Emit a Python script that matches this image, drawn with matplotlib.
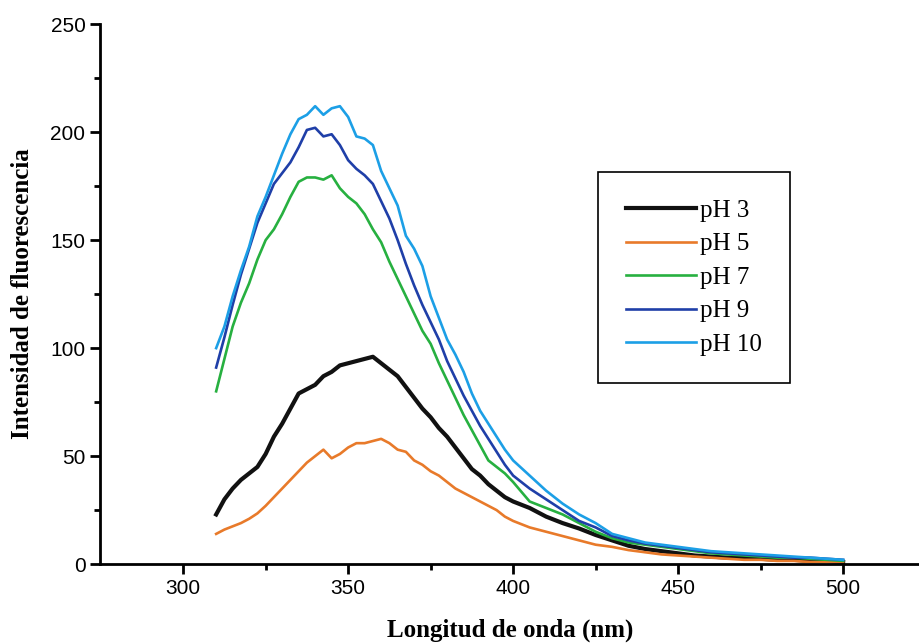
import matplotlib
matplotlib.use("Agg")
import matplotlib.pyplot as plt
import numpy as np

# wavelengths (nm)
wavelength = [310, 312.5, 315, 317.5, 320, 322.5, 325, 327.5, 330, 332.5,
              335, 337.5, 340, 342.5, 345, 347.5, 350, 352.5, 355, 357.5,
              360, 362.5, 365, 367.5, 370, 372.5, 375, 377.5, 380, 382.5,
              385, 387.5, 390, 392.5, 395, 397.5, 400, 405, 410, 415,
              420, 425, 430, 435, 440, 445, 450, 455, 460, 465,
              470, 475, 480, 485, 490, 495, 500]

ph3 = [23, 30, 35, 39, 42, 45, 51, 59, 65, 72,
       79, 81, 83, 87, 89, 92, 93, 94, 95, 96,
       93, 90, 87, 82, 77, 72, 68, 63, 59, 54,
       49, 44, 41, 37, 34, 31, 29, 26, 22, 19,
       16.5, 13.5, 11, 8.5, 7, 6, 5, 4, 3.5, 3,
       3, 2.5, 2, 2, 1.5, 1.5, 1]

ph5 = [14, 16, 17.5, 19, 21, 23.5, 27, 31, 35, 39,
       43, 47, 50, 53, 49, 51, 54, 56, 56, 57,
       58, 56, 53, 52, 48, 46, 43, 41, 38, 35,
       33, 31, 29, 27, 25, 22, 20, 17, 15, 13,
       11, 9, 8, 6.5, 5.5, 4.5, 4, 3.5, 3, 2.5,
       2, 2, 1.5, 1.5, 1, 1, 1]

ph7 = [80, 95, 110, 121, 130, 141, 150, 155, 162, 170,
       177, 179, 179, 178, 180, 174, 170, 167, 162, 155,
       149, 140, 132, 124, 116, 108, 102, 93, 85, 77,
       69, 62, 55, 48, 45, 42, 38, 29, 26, 23,
       19, 15, 12, 10, 9, 8, 7, 6, 5, 4.5,
       4, 3.5, 3, 3, 2.5, 2, 1.5]

ph9 = [91, 105, 120, 134, 146, 158, 167, 176, 181, 186,
       193, 201, 202, 198, 199, 194, 187, 183, 180, 176,
       168, 160, 150, 139, 129, 120, 112, 104, 94, 86,
       78, 71, 64, 58, 52, 46, 41, 35, 30, 25,
       20, 17, 13, 11, 9.5, 8.5, 7.5, 6.5, 5.5, 5,
       4.5, 4, 3.5, 3, 3, 2.5, 2]

ph10 = [100, 110, 124, 136, 147, 161, 170, 180, 190, 199,
        206, 208, 212, 208, 211, 212, 207, 198, 197, 194,
        182, 174, 166, 152, 146, 138, 124, 114, 104, 97,
        89, 79, 71, 65, 59, 53, 48, 41, 34, 28,
        23, 19, 14, 12, 10, 9, 8, 7, 6, 5.5,
        5, 4.5, 4, 3.5, 3, 2.5, 2]

labels = ["pH 3", "pH 5", "pH 7", "pH 9", "pH 10"]
colors = ["#111111", "#e87a2a", "#27b040", "#1f3fa8", "#1c9fe6"]
widths = [3.0, 1.9, 1.9, 1.9, 1.9]

fig = plt.figure(figsize=(9.2, 6.44), dpi=100)
ax = fig.add_axes([0.1087, 0.124, 0.8913, 0.8386])

for ys, lab, c, lw in zip([ph3, ph5, ph7, ph9, ph10], labels, colors, widths):
    ax.plot(wavelength, ys, color=c, lw=lw, label=lab)

ax.set_xlim(274.8, 523.3)
ax.set_ylim(0, 250)
ax.set_xticks([300, 350, 400, 450, 500])
ax.set_xticks([325, 375, 425, 475], minor=True)
ax.set_yticks([0, 50, 100, 150, 200, 250])
ax.set_yticks([25, 75, 125, 175, 225], minor=True)

for s in ["top", "right"]:
    ax.spines[s].set_visible(False)
for s in ["left", "bottom"]:
    ax.spines[s].set_linewidth(2.0)

ax.tick_params(which="major", direction="out", length=7, width=2)
ax.tick_params(which="minor", direction="out", length=4, width=2)
for lbl in ax.get_xticklabels() + ax.get_yticklabels():
    lbl.set_family("Liberation Sans")
    lbl.set_fontsize(15)

ax.set_xlabel("Longitud de onda (nm)", family="Liberation Serif",
              fontweight="bold", fontsize=18, labelpad=15)
ax.set_ylabel("Intensidad de fluorescencia", family="Liberation Serif",
              fontweight="bold", fontsize=18, labelpad=12)

leg = ax.legend(loc="upper left", bbox_to_anchor=(0.65, 1 - 172 / 644),
                bbox_transform=fig.transFigure,
                prop={"family": "Liberation Serif", "size": 18},
                frameon=True, fancybox=False, framealpha=1,
                edgecolor="black", handlelength=2.8, handletextpad=0.2,
                labelspacing=0.44, borderpad=1.1, borderaxespad=0)
leg.get_frame().set_linewidth(1.2)

fig.savefig("out.png", dpi=100)
